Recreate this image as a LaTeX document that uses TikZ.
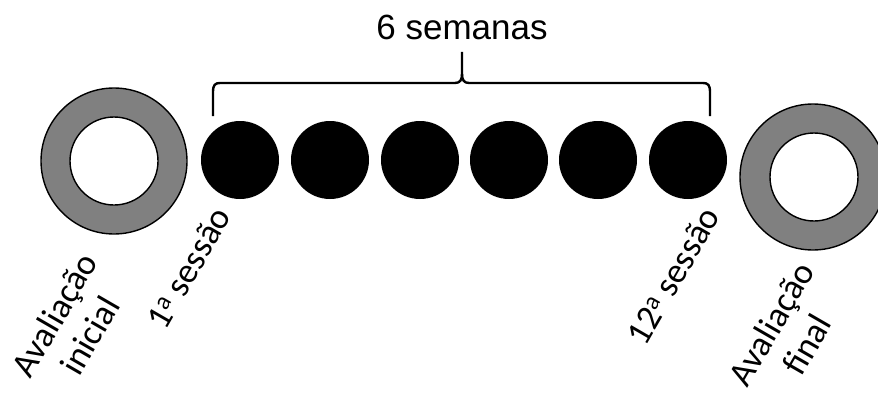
\documentclass[tikz,border=0pt]{standalone}
\usepackage{fontspec}
\setmainfont{Carlito}
\newfontfamily\arialf{Liberation Sans}
\begin{document}
\begin{tikzpicture}[x=1pt,y=-1pt,
  ringout/.style={circle,draw=black,line width=1.4pt,fill=ringgray,inner sep=0pt,minimum size=146pt},
  ringin/.style={circle,draw=black,line width=1.4pt,fill=white,inner sep=0pt,minimum size=88pt},
  sess/.style={circle,fill=black,inner sep=0pt,minimum size=78pt},
  lbl/.style={font=\fontsize{35.5}{41}\selectfont,rotate=60,inner sep=0pt,align=center},
  brc/.style={line width=2.4pt,line join=round}]
\definecolor{ringgray}{RGB}{128,128,128}
\useasboundingbox (0,0) rectangle (878,396);
\clip (0,0) rectangle (878,396);
% rings
\node[ringout] (iniO) at (114,161) {};
\node[ringin] (iniI) at (114,161) {};
\node[ringout] (finO) at (813,177) {};
\node[ringin] (finI) at (814,177) {};
% sessions
\foreach \i/\x in {1/240,2/330,3/420,4/509,5/598,6/688}{
  \node[sess] (s\i) at (\x,160) {};
}
% brace
\coordinate (bl) at (213,116);
\coordinate (br) at (710,116);
\coordinate (bt) at (462,52);
\draw[brc] (bl) -- (213,92) .. controls (213,85) and (215,83) .. (220,83)
  -- (455,83) .. controls (460,83) and (462,80) .. (462,74) -- (bt);
\draw[brc] (br) -- (710,92) .. controls (710,85) and (708,83) .. (703,83)
  -- (469,83) .. controls (464,83) and (462,80) .. (462,74);
\node[font=\arialf\fontsize{35}{40}\selectfont,anchor=base] (title) at (462,40) {6 semanas};
% labels
\node[lbl] (lini) at (72,325) {Avaliação\\inicial};
\node[lbl,anchor=east] (l1) at (222,210) {1\textsuperscript{a} sessão};
\node[lbl,anchor=east] (l12) at (711,210) {12\textsuperscript{a} sessão};
\node[lbl] (lfin) at (789,334) {Avaliação\\final};
\end{tikzpicture}
\end{document}
